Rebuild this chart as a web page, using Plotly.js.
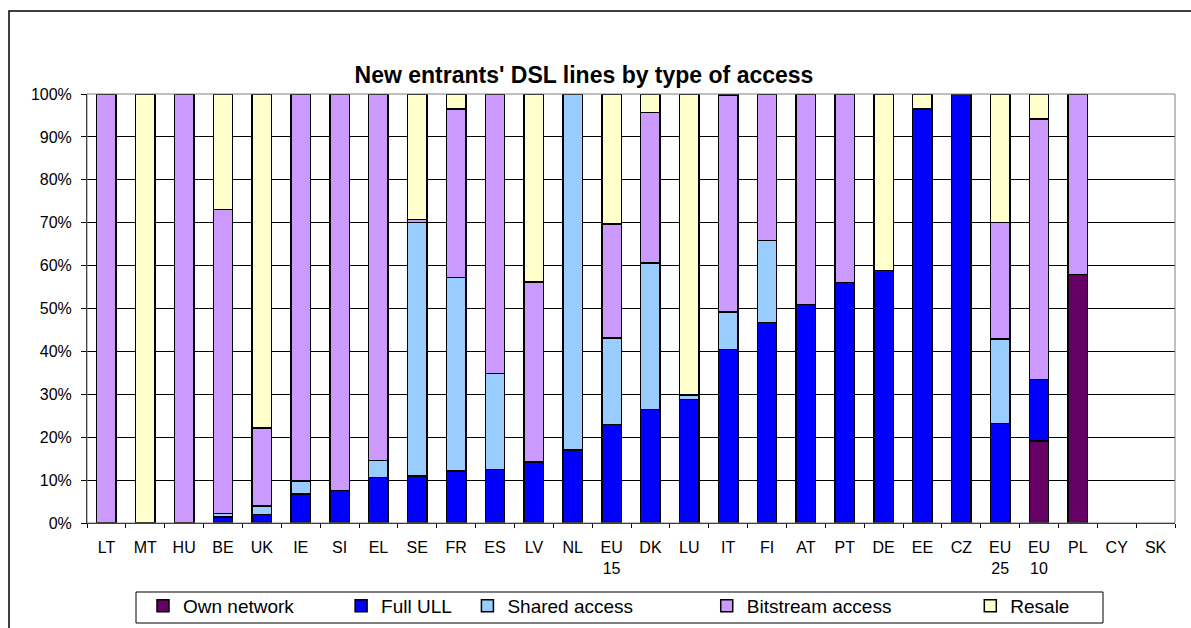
<!DOCTYPE html>
<html>
<head>
<meta charset="utf-8">
<script src="https://cdn.plot.ly/plotly-3.0.1.min.js"></script>
<style>
  html, body { margin: 0; padding: 0; background: #fff; }
  #chart { width: 1191px; height: 628px; }
</style>
</head>
<body>
<div id="chart"></div>
<script>
// categories (countries + EU aggregates)
var countries = ['LT', 'MT', 'HU', 'BE', 'UK', 'IE', 'SI', 'EL', 'SE', 'FR', 'ES', 'LV', 'NL', 'EU<br>15',
    'DK', 'LU', 'IT', 'FI', 'AT', 'PT', 'DE', 'EE', 'CZ', 'EU<br>25', 'EU<br>10', 'PL', 'CY', 'SK'];

// share of new entrants' DSL lines, %
var ownNetwork = [null, null, null, null, null, null, null, null, null, null, null, null, null, null,
    null, null, null, null, null, null, null, null, null, null, 19.1, 57.9, null, null];
var fullULL = [null, null, null, 1.4, 2.0, 6.8, 7.6, 10.6, 10.9, 12.1, 12.5, 14.2, 17.0, 23.0,
    26.5, 28.8, 40.4, 46.7, 50.9, 56.1, 58.9, 96.5, 100, 23.2, 14.4, null, null, null];
var sharedAccess = [null, null, null, 0.8, 2.0, 3.0, null, 4.0, 59.1, 45.1, 22.4, null, 83.0, 20.1,
    34.1, 1.0, 8.8, 19.2, null, null, null, null, null, 19.7, null, null, null, null];
var bitstream = [100, null, 100, 70.9, 18.2, 90.2, 92.4, 85.4, 0.8, 39.3, 65.1, 42.0, null, 26.6,
    35.1, null, 50.5, 34.1, 49.1, 43.9, null, null, null, 27.2, 60.7, 42.1, null, null];
var resale = [null, 100, null, 26.9, 77.8, null, null, null, 29.2, 3.5, null, 43.8, null, 30.3,
    4.3, 70.2, 0.3, null, null, null, 41.1, 3.5, null, 29.9, 5.8, null, null, null];

var yTickVals = [0, 10, 20, 30, 40, 50, 60, 70, 80, 90, 100];
var yTickText = ['0%', '10%', '20%', '30%', '40%', '50%', '60%', '70%', '80%', '90%', '100%'];

var seriesNames = ['Own network', 'Full ULL', 'Shared access', 'Bitstream access', 'Resale'];
var seriesValues = [ownNetwork, fullULL, sharedAccess, bitstream, resale];
var seriesColors = ['#660066', '#0000FF', '#99CCFF', '#CC99FF', '#FFFFCC'];
// extra room after each legend entry, in spaces (excel spreads them unevenly)
var legendPad = [8, 2, 13, 14, 0];

var data = [];
for (let i = 0; i < seriesNames.length; i++) {
    data.push({
        type: 'bar',
        x: countries,
        y: seriesValues[i],
        name: seriesNames[i] + '\u00a0'.repeat(legendPad[i]),
        marker: {
            color: seriesColors[i],
            line: { color: '#000000', width: 1.5 }
        }
    });
}

// plot area in pixels: x 87..1175, y 94..523
var L = 87, R = 1175, T = 94, B = 523;
var W = R - L, H = B - T;
function px(x) { return (x - L) / W; }
function py(y) { return (B - y) / H; }

var layout = {
    width: 1191,
    height: 628,
    margin: { l: L, r: 1191 - R, t: T, b: 628 - B, autoexpand: false },
    paper_bgcolor: '#ffffff',
    plot_bgcolor: '#ffffff',
    font: { family: 'Liberation Sans, Arial, sans-serif', size: 16, color: '#000000' },
    barmode: 'stack',
    bargap: 0.5,
    showlegend: true,
    title: {
        text: "<b>New entrants' DSL lines by type of access</b>",
        font: { size: 23, color: '#000000' },
        x: 584 / 1191,
        xanchor: 'center',
        xref: 'container',
        y: 1 - 75 / 628,
        yanchor: 'middle',
        yref: 'container'
    },
    xaxis: {
        type: 'category',
        tickson: 'boundaries',
        ticks: 'outside',
        ticklen: 4,
        tickcolor: '#000000',
        showline: true,
        linecolor: '#000000',
        linewidth: 1,
        showgrid: false,
        tickangle: 0,
        ticklabelstandoff: 10,
        automargin: false,
        tickfont: { size: 16 }
    },
    yaxis: {
        range: [0, 100],
        tickmode: 'array',
        tickvals: yTickVals,
        ticktext: yTickText,
        ticks: 'outside',
        ticklen: 5,
        tickcolor: '#000000',
        showline: true,
        linecolor: '#000000',
        linewidth: 1,
        showgrid: true,
        gridcolor: '#000000',
        gridwidth: 1,
        zeroline: false,
        ticklabelstandoff: 6,
        automargin: false,
        tickfont: { size: 16 }
    },
    legend: {
        orientation: 'h',
        x: px(143),
        xanchor: 'left',
        y: py(587),
        yanchor: 'top',
        borderwidth: 0,
        bgcolor: 'rgba(0,0,0,0)',
        font: { size: 19 },
        traceorder: 'normal'
    },
    shapes: [
        // plot area border
        {
            type: 'rect', xref: 'paper', yref: 'paper',
            x0: 0, x1: 1, y0: 0, y1: 1,
            line: { color: '#808080', width: 1 }
        },
        // legend box
        {
            type: 'rect', xref: 'paper', yref: 'paper', layer: 'above',
            x0: px(136), x1: px(1103), y0: py(623), y1: py(592),
            line: { color: '#000000', width: 1 }
        },
        // chart frame (runs past the bottom and right of the picture)
        {
            type: 'rect', xref: 'paper', yref: 'paper',
            x0: px(9), x1: px(1200), y0: py(640), y1: py(11),
            line: { color: '#000000', width: 1.5 }
        }
    ]
};

var config = { staticPlot: true, responsive: false };

Plotly.newPlot('chart', data, layout, config);
</script>
</body>
</html>
